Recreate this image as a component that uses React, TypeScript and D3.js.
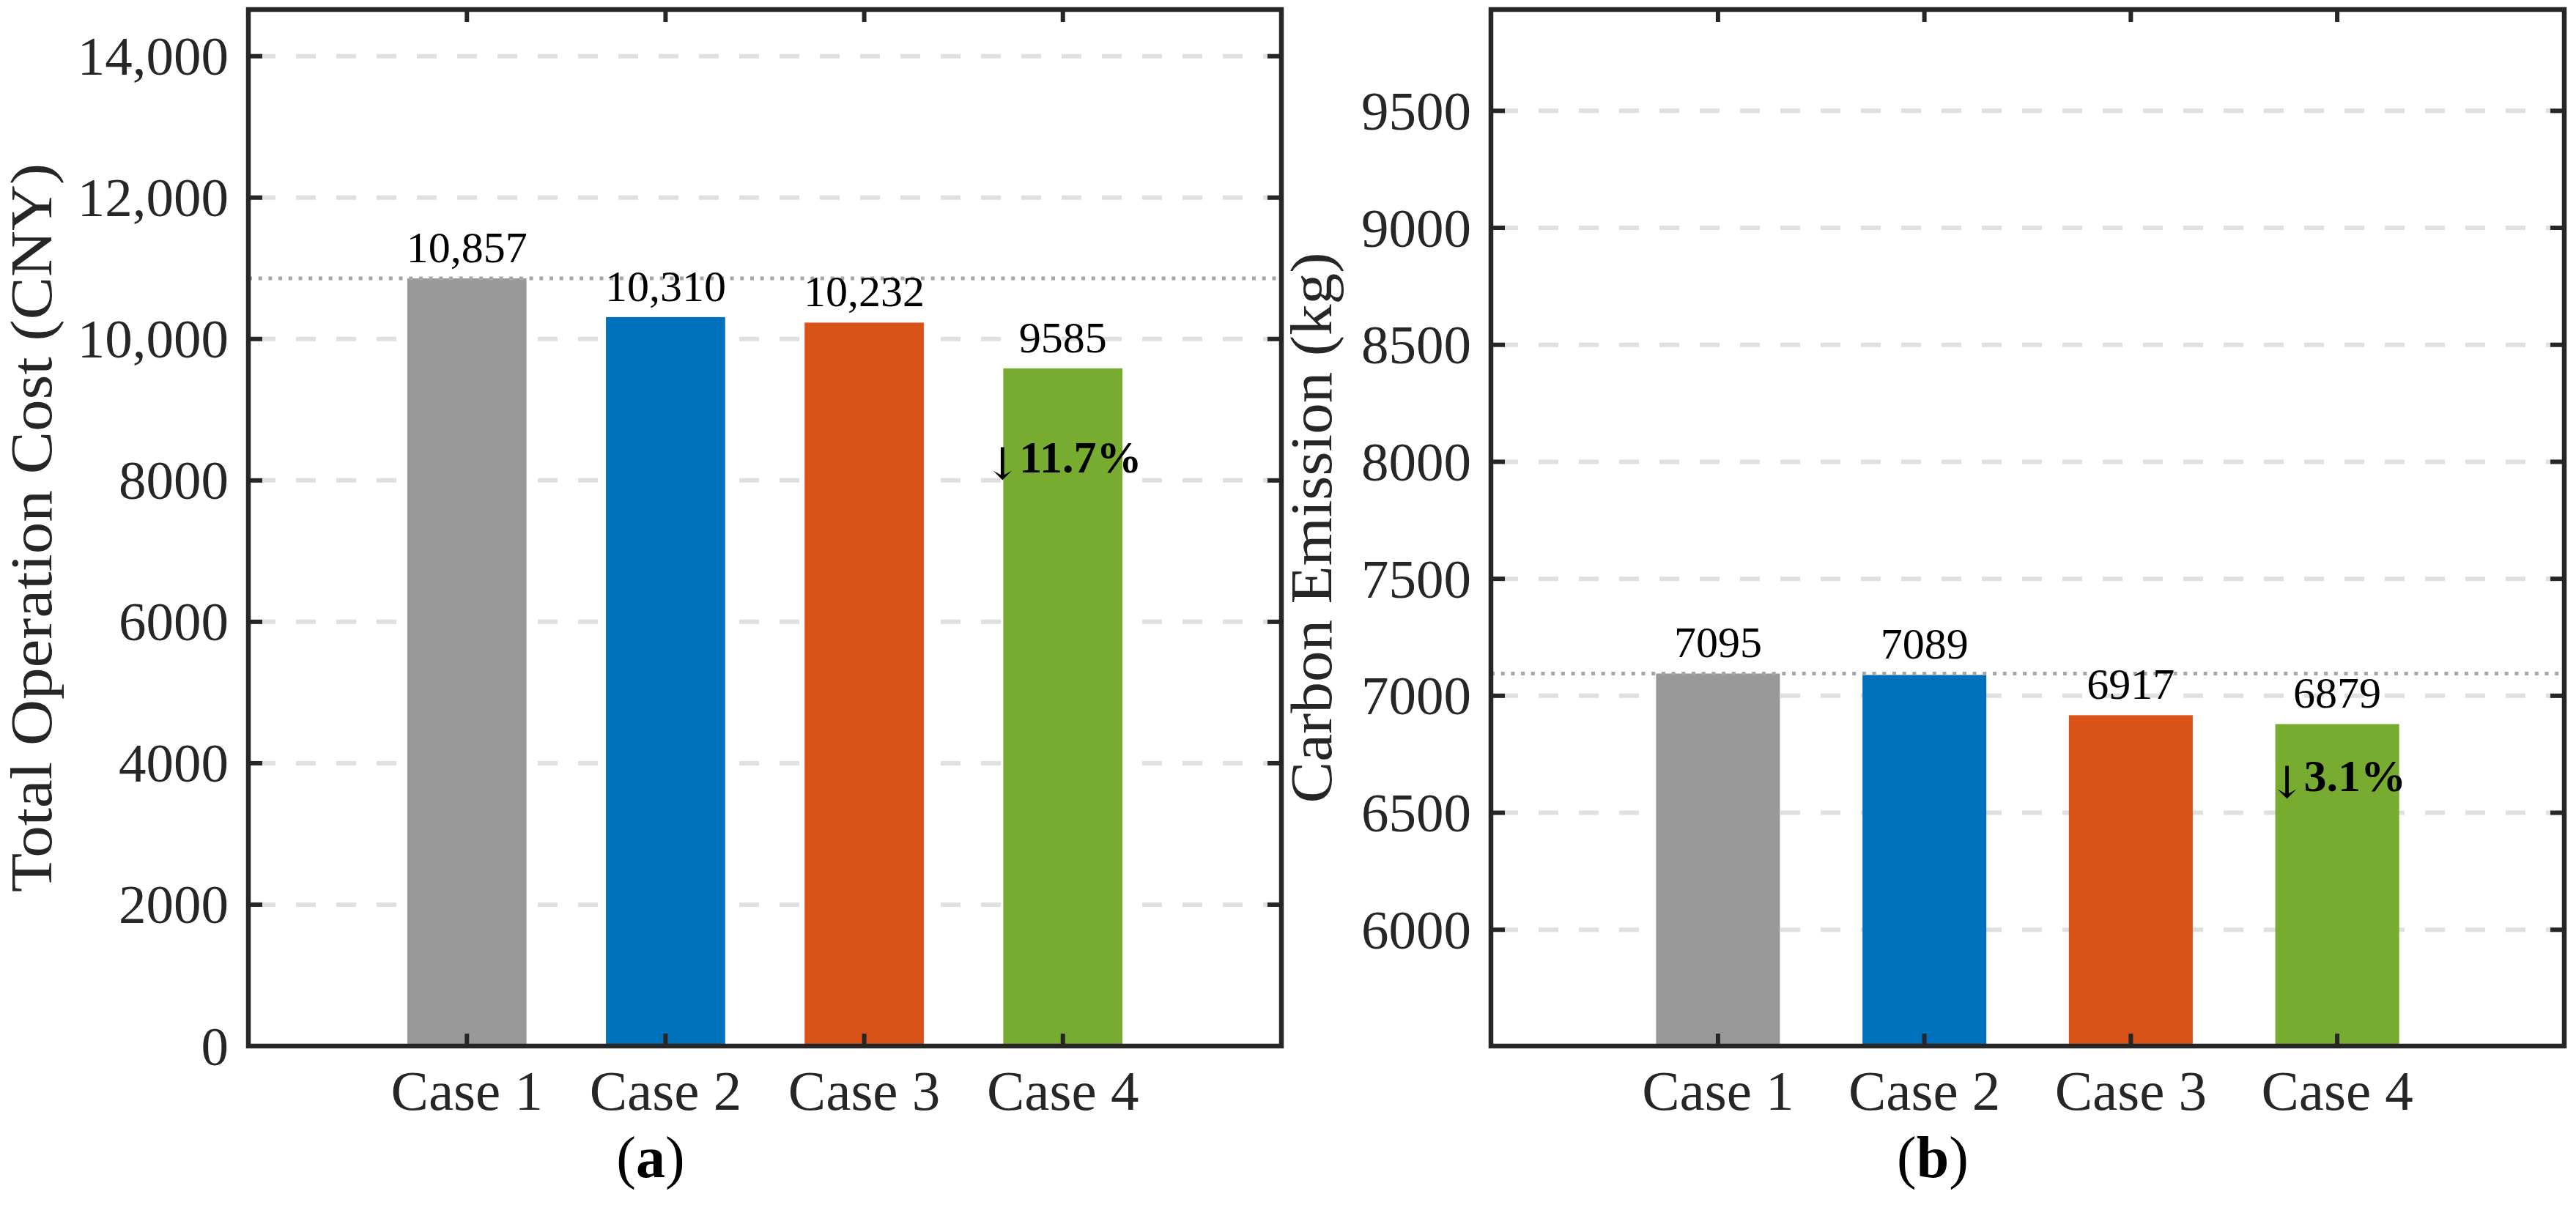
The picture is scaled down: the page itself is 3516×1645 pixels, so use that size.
import { useEffect, useRef } from "react";
import * as d3 from "d3";

const CASES = ["Case 1", "Case 2", "Case 3", "Case 4"];
const COST = [10857, 10310, 10232, 9585];
const EMISSION = [7095, 7089, 6917, 6879];
const COST_TICKS = [0, 2000, 4000, 6000, 8000, 10000, 12000, 14000];
const EMISSION_TICKS = [6000, 6500, 7000, 7500, 8000, 8500, 9000, 9500];
const COST_DOMAIN: [number, number] = [0, 14660];
const EMISSION_DOMAIN: [number, number] = [5503, 9933];
const DROP_LABELS = ["11.7%", "3.1%"];
const BAR_COLORS = ["#999999", "#0072BD", "#D95319", "#77AC30"];

const W = 3516;
const H = 1645;
const TOP = 13;
const BOTTOM = 1428;
const FONT = "'Liberation Serif', 'Times New Roman', serif";
const AXIS_COLOR = "#262626";

type Panel = {
  values: number[];
  domain: [number, number];
  ticks: number[];
  yLabel: string;
  yLabelLen: number;
  tag: string;
  drop: string;
  left: number;
  right: number;
  yLabelX: number;
  tagX: number;
  dropOffset: number;
};

const PANELS: Panel[] = [
  {
    values: COST, domain: COST_DOMAIN, ticks: COST_TICKS,
    yLabel: "Total Operation Cost (CNY)", yLabelLen: 995, tag: "a", drop: DROP_LABELS[0],
    left: 339, right: 1749, yLabelX: 70, tagX: 888, dropOffset: 142,
  },
  {
    values: EMISSION, domain: EMISSION_DOMAIN, ticks: EMISSION_TICKS,
    yLabel: "Carbon Emission (kg)", yLabelLen: 752, tag: "b", drop: DROP_LABELS[1],
    left: 2035, right: 3500, yLabelX: 1817, tagX: 2638, dropOffset: 92,
  },
];

const fmt = (v: number) => (v >= 10000 ? d3.format(",")(v) : String(v));

function drawPanel(svg: d3.Selection<SVGSVGElement, unknown, null, undefined>, p: Panel) {
  const x = d3.scaleBand<string>()
    .domain(CASES)
    .range([p.left, p.right])
    .paddingInner(0.4)
    .paddingOuter(0.8);
  const y = d3.scaleLinear().domain(p.domain).range([BOTTOM, TOP]);

  const g = svg.append("g");

  // grid
  p.ticks.filter((t) => y(t) < BOTTOM - 5).forEach((t) => {
    g.append("line")
      .attr("x1", p.left).attr("x2", p.right)
      .attr("y1", y(t)).attr("y2", y(t))
      .attr("stroke", "#e0e0e0")
      .attr("stroke-width", 6)
      .attr("stroke-dasharray", "27,28")
      .attr("stroke-dashoffset", -10);
  });

  // bars
  p.values.forEach((v, i) => {
    g.append("rect")
      .attr("x", x(CASES[i])!)
      .attr("y", y(v))
      .attr("width", x.bandwidth())
      .attr("height", BOTTOM - y(v))
      .attr("fill", BAR_COLORS[i]);
  });

  // reference line at Case 1
  g.append("line")
    .attr("x1", p.left).attr("x2", p.right)
    .attr("y1", y(p.values[0])).attr("y2", y(p.values[0]))
    .attr("stroke", "#a6a6a6")
    .attr("stroke-width", 5)
    .attr("stroke-dasharray", "5,8.7");

  // value labels
  p.values.forEach((v, i) => {
    g.append("text")
      .attr("x", x(CASES[i])! + x.bandwidth() / 2)
      .attr("y", y(v) - 22)
      .attr("text-anchor", "middle")
      .attr("font-family", FONT)
      .attr("font-size", 60)
      .attr("fill", "#000")
      .text(fmt(v));
  });

  // drop annotation on the last bar
  const last = p.values.length - 1;
  const drop = g.append("text")
    .attr("x", x(CASES[last])! + x.bandwidth() / 2)
    .attr("y", y(p.values[last]) + p.dropOffset)
    .attr("text-anchor", "middle")
    .attr("font-family", FONT)
    .attr("font-size", 62)
    .attr("fill", "#000");
  drop.append("tspan").attr("font-family", "'DejaVu Serif', serif").attr("font-size", 60).attr("dy", 9).text("↓");
  drop.append("tspan").attr("font-weight", "bold").attr("dx", -2).attr("dy", -9).text(p.drop);

  // axes box
  g.append("rect")
    .attr("x", p.left).attr("y", TOP)
    .attr("width", p.right - p.left).attr("height", BOTTOM - TOP)
    .attr("fill", "none")
    .attr("stroke", AXIS_COLOR)
    .attr("stroke-width", 6.5);

  // y ticks, both sides, inward
  p.ticks.forEach((t) => {
    const ty = y(t);
    [[p.left, p.left + 19], [p.right, p.right - 19]].forEach(([a, b]) => {
      g.append("line")
        .attr("x1", a).attr("x2", b)
        .attr("y1", ty).attr("y2", ty)
        .attr("stroke", AXIS_COLOR).attr("stroke-width", 6);
    });
    g.append("text")
      .attr("x", p.left - 27)
      .attr("y", ty)
      .attr("dy", "0.34em")
      .attr("text-anchor", "end")
      .attr("font-family", FONT)
      .attr("font-size", 75)
      .attr("fill", "#262626")
      .text(fmt(t));
  });

  // x ticks, top and bottom, inward
  CASES.forEach((c) => {
    const cx = x(c)! + x.bandwidth() / 2;
    [[BOTTOM, BOTTOM - 17], [TOP, TOP + 17]].forEach(([a, b]) => {
      g.append("line")
        .attr("x1", cx).attr("x2", cx)
        .attr("y1", a).attr("y2", b)
        .attr("stroke", AXIS_COLOR).attr("stroke-width", 6);
    });
    g.append("text")
      .attr("x", cx)
      .attr("y", 1515)
      .attr("text-anchor", "middle")
      .attr("font-family", FONT)
      .attr("font-size", 77)
      .attr("fill", "#262626")
      .text(c);
  });

  // y axis title
  g.append("text")
    .attr("transform", `translate(${p.yLabelX},${(TOP + BOTTOM) / 2}) rotate(-90)`)
    .attr("text-anchor", "middle")
    .attr("font-family", FONT)
    .attr("font-size", 80)
    .attr("textLength", p.yLabelLen)
    .attr("lengthAdjust", "spacingAndGlyphs")
    .attr("fill", "#262626")
    .text(p.yLabel);

  // panel tag
  const tag = g.append("text")
    .attr("x", p.tagX)
    .attr("y", 1607)
    .attr("text-anchor", "middle")
    .attr("font-family", FONT)
    .attr("font-size", 80)
    .attr("fill", "#000");
  tag.append("tspan").text("(");
  tag.append("tspan").attr("font-weight", "bold").text(p.tag);
  tag.append("tspan").text(")");
}

export default function App() {
  const ref = useRef<SVGSVGElement>(null);

  useEffect(() => {
    document.body.style.margin = "0";
    document.body.style.overflow = "hidden";
    const el = ref.current;
    if (!el) return;
    const svg = d3.select(el);
    svg.selectAll("*").remove();
    PANELS.forEach((p) => drawPanel(svg, p));
  }, []);

  return (
    <svg
      ref={ref}
      width={W}
      height={H}
      style={{ position: "absolute", left: 0, top: 0, background: "#fff" }}
    />
  );
}
